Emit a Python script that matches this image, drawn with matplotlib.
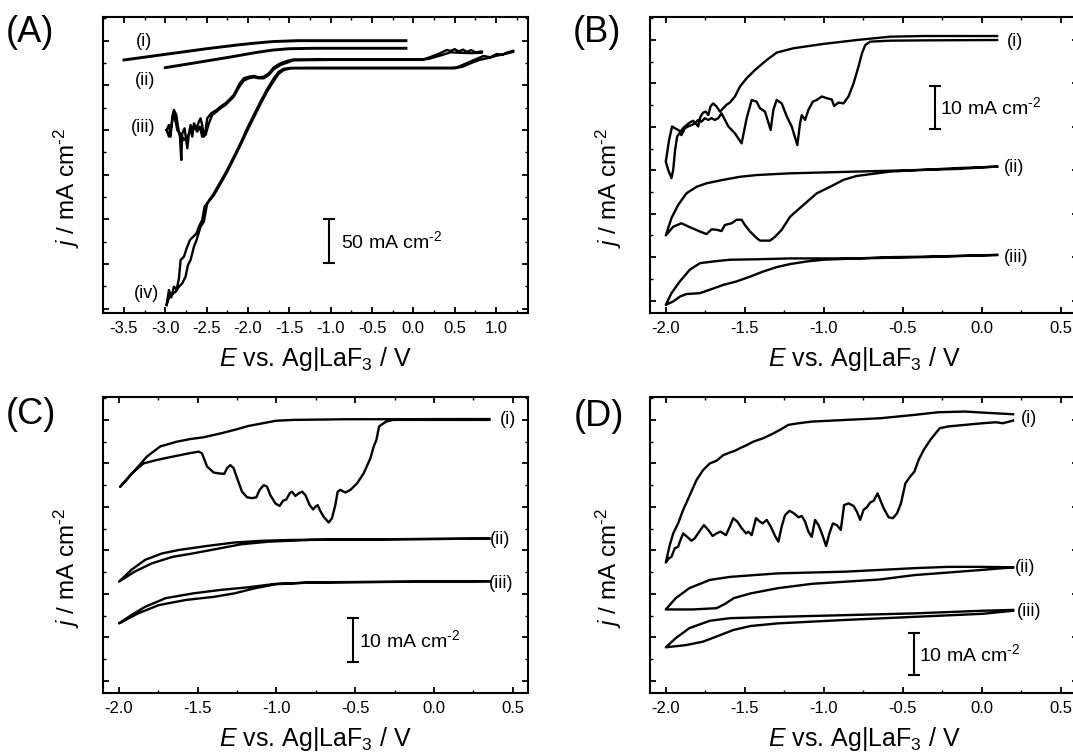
import numpy as np
import matplotlib
matplotlib.use('Agg')
import matplotlib.pyplot as plt
from matplotlib.ticker import MultipleLocator, FormatStrFormatter, NullFormatter

plt.rcParams['font.family'] = ['Liberation Sans', 'DejaVu Sans']
plt.rcParams['mathtext.fontset'] = 'custom'
plt.rcParams['mathtext.rm'] = 'Liberation Sans'
plt.rcParams['mathtext.it'] = 'Liberation Sans:italic'
plt.rcParams['mathtext.bf'] = 'Liberation Sans:bold'
plt.rcParams['axes.unicode_minus'] = False

# ---------------- panel A (mA cm-2) ----------------
a1_E = [-3.5, -3.0, -2.5, -2.1, -1.9, -1.7, -1.4, -0.09]
a1_j = [-21.6, -15.3, -9.0, -4.5, -2.6, -1.0, 0.0, 0.0]

a2_E = [-3.0, -2.6, -2.2, -1.9, -1.7, -1.5, -1.2, -0.09]
a2_j = [-30.2, -24.2, -18.1, -13.2, -10.5, -9.0, -8.5, -8.5]

a3_fwd_E = [-2.984, -2.956, -2.936, -2.916, -2.896, -2.867, -2.847, -2.823, -2.807, -2.795,
            -2.767, -2.734, -2.714, -2.694, -2.674, -2.654, -2.622, -2.594, -2.574, -2.554,
            -2.534, -2.513, -2.493, -2.445, -2.381, -2.333, -2.272, -2.212, -2.172, -2.131,
            -2.099, -2.051, -1.990, -1.930, -1.869, -1.809, -1.748, -1.688, -1.607, -1.527,
            -1.45, -1.0, -0.5, 0.0, 0.125, 0.2, 0.3, 0.406, 0.45, 0.5, 0.55, 0.6, 0.65, 0.7,
            0.75, 0.83]
a3_fwd_j = [-99.9, -94.4, -107.4, -85.0, -77.6, -83.2, -96.2, -107.4, -133.5, -103.7,
            -98.1, -120.5, -103.7, -94.4, -107.4, -92.5, -98.1, -90.6, -86.9, -94.4,
            -107.4, -99.9, -86.9, -81.3, -77.6, -73.8, -70.1, -64.5, -60.8, -53.3,
            -47.7, -42.1, -40.3, -39.5, -41.0, -40.3, -36.5, -29.8, -25.3, -22.7,
            -21.0, -20.8, -20.8, -20.8, -20.8, -18.5, -15.0, -10.4, -11.5, -9.5, -12.0, -10.0,
            -12.5, -10.5, -13.0, -12.0]
a3_rev_E = [0.83, 0.7, 0.55, 0.45, 0.35, 0.2, 0.1, -0.5, -1.0, -1.45, -1.527, -1.607, -1.688,
            -1.748, -1.809, -1.869, -1.930, -1.990, -2.051, -2.099, -2.131, -2.172, -2.212,
            -2.272, -2.333, -2.381, -2.433, -2.473, -2.513, -2.554, -2.582, -2.614, -2.654,
            -2.694, -2.734, -2.775, -2.815, -2.855, -2.896, -2.928, -2.956, -2.984]
a3_rev_j = [-13.5, -14.0, -13.5, -13.0, -16.0, -20.0, -21.5, -21.5, -21.5, -22.0, -24.6, -27.2,
            -32.0, -38.4, -42.1, -42.1, -41.0, -42.1, -44.7, -50.7, -55.9, -62.7, -66.4,
            -72.0, -75.7, -79.5, -83.2, -92.5, -105.6, -107.4, -96.2, -101.8, -96.2,
            -101.8, -107.4, -111.2, -105.6, -100.0, -81.3, -96.2, -107.4, -99.9]

a4_fwd_E = [-2.984, -2.956, -2.928, -2.896, -2.863, -2.835, -2.815, -2.775, -2.742, -2.702,
            -2.662, -2.622, -2.594, -2.554, -2.525, -2.493, -2.413, -2.332, -2.252, -2.171,
            -2.091, -2.010, -1.930, -1.849, -1.769, -1.688, -1.628, -1.568, -1.487, -1.3,
            -0.5, 0.0, 0.3, 0.45, 0.527, 0.6, 0.687, 0.75, 0.848, 0.929, 1.01, 1.07, 1.13, 1.21]
a4_fwd_j = [-295.9, -279.1, -287.3, -275.4, -278.4, -266.0, -245.5, -241.8, -232.4, -223.1,
            -219.4, -215.6, -208.2, -200.7, -185.8, -182.0, -170.9, -157.8, -144.7, -129.8,
            -114.9, -98.1, -83.2, -68.2, -54.4, -42.1, -34.7, -31.5, -30.5, -30.3,
            -30.3, -30.3, -30.3, -30.3, -29.8, -27.0, -23.5, -21.0, -17.1, -18.6, -14.9, -16.0,
            -13.4, -11.2]
a4_rev_E = [1.21, 1.1, 1.0, 0.9, 0.8, 0.7, 0.6, 0.5, 0.0, -0.5, -1.3, -1.487, -1.568, -1.628,
            -1.688, -1.769, -1.849, -1.930, -2.010, -2.091, -2.171, -2.252, -2.332, -2.413,
            -2.493, -2.534, -2.574, -2.622, -2.654, -2.694, -2.726, -2.755, -2.795, -2.835,
            -2.876, -2.928, -2.968, -2.984]
a4_rev_j = [-12.5, -15.0, -17.0, -19.5, -21.5, -25.0, -29.0, -31.0, -31.0, -31.0, -31.0, -31.0,
            -33.0, -37.0, -45.0, -57.0, -71.0, -86.0, -101.0, -117.0, -132.0, -147.0,
            -160.0, -173.0, -182.0, -202.6, -208.2, -223.1, -230.6, -245.5, -251.1,
            -264.1, -271.6, -275.4, -281.0, -284.7, -290.3, -295.9]

# ---------------- panel B ----------------
b1_fwd_E = [0.098, -0.367, -0.579, -0.706, -0.737, -0.758, -0.780, -0.811, -0.843, -0.875,
            -0.907, -0.934, -0.949, -0.981, -1.012, -1.044, -1.069, -1.097, -1.118, -1.139,
            -1.150, -1.167, -1.203, -1.234, -1.266, -1.298, -1.319, -1.336, -1.372, -1.404,
            -1.425, -1.456, -1.488, -1.520, -1.562, -1.604, -1.647, -1.668, -1.689, -1.710,
            -1.731, -1.753, -1.774, -1.795, -1.816, -1.837, -1.858, -1.879, -1.901, -1.915,
            -1.928, -1.941, -1.953, -1.964, -1.985, -2.0]
b1_fwd_j = [0.0, -0.08, -0.15, -0.38, -1.15, -3.07, -6.14, -9.97, -13.0, -14.6,
            -14.4, -15.2, -13.7, -13.4, -13.0, -13.8, -14.2, -16.1, -18.4, -17.3,
            -19.2, -24.2, -19.9, -17.6, -14.6, -13.8, -16.1, -20.7, -16.5, -15.7,
            -14.2, -13.8, -18.0, -23.8, -21.5, -19.9, -16.9, -18.0, -18.4, -18.0,
            -18.4, -18.0, -18.8, -18.4, -19.2, -19.6, -19.9, -20.3, -21.9, -21.5,
            -22.2, -25.3, -29.9, -31.8, -29.9, -28.0]
b1_rev_E = [-2.0, -1.979, -1.960, -1.943, -1.922, -1.907, -1.890, -1.869, -1.848, -1.827,
            -1.810, -1.795, -1.780, -1.763, -1.746, -1.731, -1.717, -1.700, -1.679, -1.657,
            -1.636, -1.615, -1.594, -1.562, -1.530, -1.488, -1.435, -1.361, -1.298, -1.192,
            -1.002, -0.790, -0.579, -0.367, 0.098]
b1_rev_j = [-28.0, -23.0, -19.9, -20.3, -20.7, -21.1, -20.3, -19.6, -19.0, -18.6,
            -19.2, -19.9, -17.6, -16.7, -16.5, -17.3, -15.3, -14.6, -15.3, -16.5,
            -15.7, -14.9, -14.4, -13.0, -10.7, -8.8, -6.9, -4.6, -2.9, -1.9,
            -0.9, 0.0, 0.77, 0.92, 0.92]

b2_fwd_E = [0.098, -0.156, -0.367, -0.579, -0.684, -0.790, -0.875, -0.959, -1.044, -1.129,
            -1.213, -1.266, -1.308, -1.340, -1.404, -1.425, -1.467, -1.499, -1.520, -1.552,
            -1.583, -1.626, -1.647, -1.679, -1.710, -1.742, -1.784, -1.848, -1.901, -1.953, -2.0]
b2_fwd_j = [-29.15, -29.7, -29.9, -30.3, -30.8, -31.3, -32.2, -33.8, -35.3, -38.0,
            -40.7, -43.7, -45.3, -46.2, -46.2, -45.6, -44.1, -42.6, -41.4, -41.4,
            -42.2, -42.6, -44.0, -43.7, -43.6, -44.7, -44.1, -43.1, -42.2, -43.0, -45.0]
b2_rev_E = [-2.0, -1.964, -1.922, -1.869, -1.805, -1.742, -1.636, -1.530, -1.425, -1.213,
            -1.002, -0.790, -0.579, -0.367, -0.156, 0.098]
b2_rev_j = [-45.0, -41.0, -38.0, -35.3, -33.8, -33.0, -32.2, -31.5, -31.1, -30.7,
            -30.5, -30.3, -30.1, -29.9, -29.5, -29.15]

b3_fwd_E = [0.098, -0.367, -0.579, -0.790, -1.002, -1.107, -1.213, -1.298, -1.382, -1.467,
            -1.552, -1.636, -1.721, -1.784, -1.869, -1.911, -1.953, -2.0]
b3_fwd_j = [-49.5, -49.9, -50.0, -50.3, -50.6, -51.0, -51.6, -52.3, -53.3, -54.5,
            -55.6, -56.4, -57.5, -58.3, -58.5, -59.1, -60.2, -61.0]
b3_rev_E = [-2.0, -1.964, -1.911, -1.848, -1.784, -1.700, -1.594, -1.425, -1.213, -0.790,
            -0.367, 0.098]
b3_rev_j = [-61.0, -58.3, -55.6, -52.9, -51.4, -51.0, -50.6, -50.5, -50.3, -50.3,
            -50.0, -49.5]

# ---------------- panel C ----------------
c1_fwd_E = [0.352, -0.26, -0.304, -0.348, -0.365, -0.382, -0.403, -0.446, -0.488, -0.530,
            -0.562, -0.594, -0.611, -0.626, -0.647, -0.668, -0.700, -0.725, -0.738, -0.753,
            -0.767, -0.789, -0.816, -0.837, -0.859, -0.880, -0.901, -0.916, -0.937, -0.958,
            -0.980, -1.007, -1.039, -1.060, -1.081, -1.107, -1.128, -1.155, -1.187, -1.219,
            -1.250, -1.272, -1.293, -1.314, -1.331, -1.367, -1.399, -1.441, -1.473, -1.494,
            -1.558, -1.653, -1.759, -1.844, -1.907, -1.992]
c1_fwd_j = [0.0, 0.0, -0.4, -1.5, -4.6, -6.1, -8.8, -12.3, -14.6, -16.1,
            -16.7, -16.1, -16.5, -19.6, -22.6, -23.6, -22.3, -20.7, -19.6, -20.0,
            -20.6, -19.6, -17.3, -16.5, -16.9, -17.5, -16.5, -16.9, -18.3, -18.6,
            -19.8, -19.2, -17.3, -15.35, -15.0, -16.1, -17.8, -18.0, -17.8, -16.5,
            -13.4, -11.1, -10.4, -11.1, -12.4, -12.3, -12.1, -10.7, -7.7, -7.3,
            -7.7, -8.4, -9.2, -10.0, -11.9, -15.35]
c1_rev_E = [-1.992, -1.907, -1.822, -1.738, -1.632, -1.547, -1.464, -1.354, -1.267, -1.179,
            -1.091, -1.004, -0.894, -0.566, 0.352]
c1_rev_j = [-15.35, -11.9, -8.4, -6.1, -5.0, -4.4, -4.0, -3.1, -2.3, -1.4,
            -0.8, -0.2, 0.0, 0.15, 0.2]

c2_fwd_E = [0.352, -0.785, -1.048, -1.223, -1.354, -1.529, -1.660, -1.792, -1.901, -2.0]
c2_fwd_j = [-27.3, -27.6, -28.0, -28.6, -29.5, -30.7, -31.5, -33.0, -34.9, -37.2]
c2_rev_E = [-2.0, -1.922, -1.835, -1.726, -1.617, -1.442, -1.267, -1.091, -0.894, -0.566, 0.352]
c2_rev_j = [-37.2, -34.5, -32.2, -30.7, -29.9, -29.0, -28.2, -27.8, -27.6, -27.5, -27.3]

c3_fwd_E = [0.352, -0.785, -1.004, -1.135, -1.267, -1.398, -1.573, -1.748, -1.879, -2.0]
c3_fwd_j = [-37.1, -37.4, -37.8, -38.7, -39.9, -40.7, -41.4, -42.6, -44.5, -46.8]
c3_rev_E = [-2.0, -1.922, -1.835, -1.704, -1.529, -1.354, -1.179, -1.004, -0.785, -0.566, 0.352]
c3_rev_j = [-46.8, -44.9, -43.0, -41.0, -39.9, -39.1, -38.5, -37.7, -37.4, -37.3, -37.1]

# ---------------- panel D ----------------
d1_fwd_E = [0.199, 0.134, 0.090, 0.004, -0.211, -0.265, -0.283, -0.325, -0.367, -0.399,
            -0.426, -0.452, -0.483, -0.511, -0.536, -0.562, -0.589, -0.621, -0.642, -0.659,
            -0.684, -0.706, -0.727, -0.748, -0.769, -0.790, -0.811, -0.843, -0.871, -0.892,
            -0.917, -0.942, -0.964, -0.985, -1.012, -1.033, -1.055, -1.076, -1.097, -1.118,
            -1.139, -1.160, -1.188, -1.217, -1.245, -1.266, -1.287, -1.308, -1.336, -1.361,
            -1.387, -1.404, -1.429, -1.456, -1.478, -1.492, -1.520, -1.547, -1.573, -1.594,
            -1.619, -1.653, -1.679, -1.704, -1.731, -1.759, -1.788, -1.816, -1.837, -1.865,
            -1.890, -1.911, -1.922, -1.943, -1.964, -1.979, -2.0]
d1_fwd_j = [-0.15, -0.77, -0.54, -0.77, -1.5, -1.9, -2.7, -4.6, -6.9, -9.2,
            -11.9, -13.0, -14.6, -19.2, -21.5, -22.6, -22.4, -20.3, -18.4, -16.9,
            -18.6, -19.0, -20.1, -20.7, -23.0, -21.1, -19.8, -19.2, -19.6, -25.3,
            -24.2, -23.8, -26.1, -29.0, -26.1, -24.2, -23.0, -26.9, -25.7, -23.4,
            -22.1, -22.4, -21.5, -20.9, -21.9, -24.5, -28.0, -26.7, -24.5, -23.0,
            -23.8, -23.4, -22.6, -26.5, -25.7, -26.1, -24.9, -23.4, -22.6, -24.5,
            -26.5, -25.7, -26.1, -26.7, -25.3, -24.2, -25.7, -27.2, -27.8, -26.9,
            -26.1, -28.0, -29.2, -29.5, -31.5, -31.8, -32.8]
d1_rev_E = [-2.0, -1.975, -1.953, -1.922, -1.890, -1.848, -1.805, -1.763, -1.721, -1.679,
            -1.636, -1.594, -1.562, -1.530, -1.488, -1.446, -1.382, -1.319, -1.277, -1.225,
            -1.160, -1.074, -0.858, -0.643, -0.427, -0.276, -0.103, 0.004, 0.199]
d1_rev_j = [-32.8, -28.8, -26.1, -23.8, -20.7, -17.3, -13.8, -11.5, -10.0, -9.4,
            -8.1, -7.5, -7.1, -6.5, -5.8, -5.0, -4.2, -3.1, -2.3, -1.15,
            -0.77, -0.38, 0.0, 0.38, 1.15, 1.76, 1.92, 1.69, 1.30]

d2_fwd_E = [0.199, 0.004, -0.211, -0.427, -0.514, -0.643, -0.858, -1.074, -1.290, -1.462,
            -1.570, -1.624, -1.678, -1.829, -2.0]
d2_fwd_j = [-33.9, -34.5, -35.1, -35.7, -36.1, -36.7, -37.2, -37.7, -38.7, -39.9,
            -41.0, -42.3, -43.3, -43.6, -43.6]
d2_rev_E = [-2.0, -1.937, -1.851, -1.721, -1.592, -1.290, -0.858, -0.427, -0.211, 0.004, 0.199]
d2_rev_j = [-43.6, -41.0, -38.7, -36.8, -36.1, -35.3, -34.9, -34.1, -33.8, -33.8, -33.9]

d3_fwd_E = [0.199, 0.004, -0.427, -0.858, -1.074, -1.290, -1.462, -1.570, -1.656, -1.764,
            -1.872, -2.0]
d3_fwd_j = [-43.9, -44.6, -45.3, -46.0, -46.4, -46.8, -47.4, -48.3, -49.5, -51.0,
            -51.8, -52.3]
d3_rev_E = [-2.0, -1.937, -1.851, -1.721, -1.592, -1.290, -0.858, -0.427, 0.004, 0.199]
d3_rev_j = [-52.3, -50.2, -47.9, -46.2, -45.6, -45.3, -44.9, -44.5, -43.9, -43.7]

curve_labels = ['(i)', '(ii)', '(iii)', '(iv)']
unit = r'mA cm$^{\text{-2}}$'


def loop(ax, E1, j1, E2, j2, lw):
    ax.plot(np.concatenate([E1, E2]), np.concatenate([j1, j2]), color='black', lw=lw,
            solid_joinstyle='round')


def style(ax, xlim, ylim, xmaj, ymaj):
    ax.set_xlim(*xlim)
    ax.set_ylim(*ylim)
    ax.xaxis.set_major_locator(MultipleLocator(xmaj))
    ax.xaxis.set_minor_locator(MultipleLocator(xmaj / 2))
    ax.yaxis.set_major_locator(MultipleLocator(ymaj))
    ax.yaxis.set_minor_locator(MultipleLocator(ymaj / 2))
    ax.xaxis.set_major_formatter(FormatStrFormatter('%.1f'))
    ax.yaxis.set_major_formatter(NullFormatter())
    ax.tick_params(which='both', direction='in', top=True, right=True, labelsize=12, pad=6)
    ax.tick_params(which='major', length=4, width=1.3)
    ax.tick_params(which='minor', length=2.5, width=1.0)
    for s in ax.spines.values():
        s.set_linewidth(1.5)
    ax.set_xlabel(r'$\mathit{E}$ vs. Ag|LaF$_3$ / V', fontsize=18, labelpad=6.5)
    ax.set_ylabel(r'$\mathit{j}$ / ' + unit, fontsize=17.5)


def scalebar(ax, x, y0, y1, text, tx, ty):
    ax.errorbar([x], [(y0 + y1) / 2], yerr=[[abs(y1 - y0) / 2]], fmt='none', ecolor='black',
                elinewidth=1.5, capsize=4.5, capthick=1.5)
    ax.text(tx, ty, text, fontsize=14, va='center', ha='left')


W, H = 1073, 755
fig = plt.figure(figsize=(W / 100, H / 100), dpi=100)

axA = fig.add_axes([103.3 / W, 1 - 312.7 / H, 425 / W, 295.7 / H])
axB = fig.add_axes([650 / W, 1 - 312.7 / H, 428 / W, 295.7 / H])
axC = fig.add_axes([103.3 / W, 1 - 692.5 / H, 425 / W, 295.2 / H])
axD = fig.add_axes([650 / W, 1 - 692.5 / H, 428 / W, 295.2 / H])

# A
axA.plot(a1_E, a1_j, color='black', lw=2.1)
axA.plot(a2_E, a2_j, color='black', lw=2.1)
loop(axA, a3_fwd_E, a3_fwd_j, a3_rev_E, a3_rev_j, 1.7)
loop(axA, a4_fwd_E, a4_fwd_j, a4_rev_E, a4_rev_j, 1.7)
style(axA, (-3.75, 1.39), (-304.5, 26.5), 0.5, 50)
for lab, (x, y) in zip(curve_labels, [(-3.26, -1.0), (-3.25, -45.0), (-3.27, -97.0), (-3.23, -283.0)]):
    axA.text(x, y, lab, fontsize=13, ha='center', va='center')
scalebar(axA, -1.024, -200, -249, '50 ' + unit, -0.88, -224)

# B
loop(axB, b1_fwd_E, b1_fwd_j, b1_rev_E, b1_rev_j, 1.7)
loop(axB, b2_fwd_E, b2_fwd_j, b2_rev_E, b2_rev_j, 1.7)
loop(axB, b3_fwd_E, b3_fwd_j, b3_rev_E, b3_rev_j, 1.7)
style(axB, (-2.1, 0.61), (-62.8, 5.3), 0.5, 10)
for lab, (x, y) in zip(curve_labels, [(0.16, -0.4), (0.14, -29.4), (0.14, -50.0)]):
    axB.text(x, y, lab, fontsize=13, ha='left', va='center')
scalebar(axB, -0.293, -10.6, -20.5, '10 ' + unit, -0.265, -15.4)

# C
loop(axC, c1_fwd_E, c1_fwd_j, c1_rev_E, c1_rev_j, 1.7)
loop(axC, c2_fwd_E, c2_fwd_j, c2_rev_E, c2_rev_j, 1.7)
loop(axC, c3_fwd_E, c3_fwd_j, c3_rev_E, c3_rev_j, 1.7)
style(axC, (-2.1, 0.6), (-62.7, 5.2), 0.5, 10)
for lab, (x, y) in zip(curve_labels, [(0.42, 0.0), (0.355, -27.4), (0.35, -37.6)]):
    axC.text(x, y, lab, fontsize=13, ha='left', va='center')
scalebar(axC, -0.511, -45.6, -55.6, '10 ' + unit, -0.475, -50.6)

# D
loop(axD, d1_fwd_E, d1_fwd_j, d1_rev_E, d1_rev_j, 1.7)
loop(axD, d2_fwd_E, d2_fwd_j, d2_rev_E, d2_rev_j, 1.7)
loop(axD, d3_fwd_E, d3_fwd_j, d3_rev_E, d3_rev_j, 1.7)
style(axD, (-2.1, 0.61), (-62.7, 5.2), 0.5, 10)
for lab, (x, y) in zip(curve_labels, [(0.25, 0.4), (0.21, -34.0), (0.22, -44.0)]):
    axD.text(x, y, lab, fontsize=13, ha='left', va='center')
scalebar(axD, -0.427, -48.9, -58.7, '10 ' + unit, -0.395, -53.8)

axA.yaxis.set_label_coords(-0.05, 0.423)
axC.yaxis.set_label_coords(-0.05, 0.422)
axB.yaxis.set_label_coords(-0.06, 0.423)
axD.yaxis.set_label_coords(-0.06, 0.422)

for txt, x, y in [('(A)', 6, 32), ('(B)', 573, 32), ('(C)', 6, 415), ('(D)', 574, 417)]:
    fig.text(x / W, 1 - y / H, txt, fontsize=26, va='center', ha='left')

fig.savefig('out.png', dpi=100)
